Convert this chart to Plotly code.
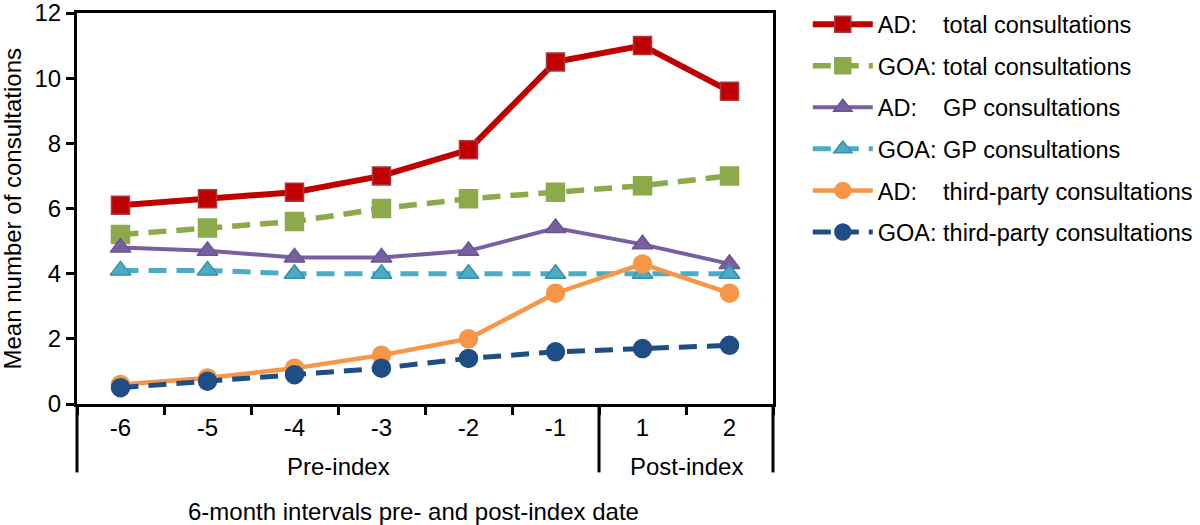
import plotly.graph_objects as go

categories = ["-6", "-5", "-4", "-3", "-2", "-1", "1", "2"]
ad_total = [6.1, 6.3, 6.5, 7.0, 7.8, 10.5, 11.0, 9.6]
goa_total = [5.2, 5.4, 5.6, 6.0, 6.3, 6.5, 6.7, 7.0]
ad_gp = [4.8, 4.7, 4.5, 4.5, 4.7, 5.4, 4.9, 4.3]
goa_gp = [4.1, 4.1, 4.0, 4.0, 4.0, 4.0, 4.0, 4.0]
ad_third = [0.6, 0.8, 1.1, 1.5, 2.0, 3.4, 4.3, 3.4]
goa_third = [0.5, 0.7, 0.9, 1.1, 1.4, 1.6, 1.7, 1.8]
y_ticks = [0, 2, 4, 6, 8, 10, 12]
group_labels = ["Pre-index", "Post-index"]

NB = "\u00a0"
series = [
    ("AD:" + NB * 4 + "total consultations", ad_total, "#C00000", "solid", "square", "#A8383C", 6),
    ("GOA:" + NB + "total consultations", goa_total, "#8DAA4B", "18px,10px", "square", "#8DAA4B", 5.5),
    ("AD:" + NB * 4 + "GP consultations", ad_gp, "#7660A0", "solid", "triangle-up", "#6A5494", 4),
    ("GOA:" + NB + "GP consultations", goa_gp, "#4BACC6", "18px,10px", "triangle-up", "#3A8FAA", 5),
    ("AD:" + NB * 4 + "third-party consultations", ad_third, "#F79646", "solid", "circle", "#F79646", 4.5),
    ("GOA:" + NB + "third-party consultations", goa_third, "#1F4E85", "18px,10px", "circle", "#1F4E85", 5),
]

FONT = "Liberation Sans, Arial, Helvetica, sans-serif"
fig = go.Figure()
for i, (name, vals, color, dash, sym, edge, lw) in enumerate(series):
    fig.add_trace(go.Scatter(
        x=categories, y=vals, name=name, mode="lines+markers",
        legendgroup=str(i),
        line=dict(color=color, width=lw, dash=dash),
        marker=dict(symbol=sym, size=18, color=color, line=dict(color=edge, width=1.5)),
    ))

fig.update_layout(
    width=1200, height=525,
    margin=dict(l=77, r=427, t=13, b=121, autoexpand=False),
    paper_bgcolor="white", plot_bgcolor="white",
    font=dict(family=FONT, size=24, color="black"),
    showlegend=True,
    legend=dict(x=1.05, y=1.027, xanchor="left", yanchor="top",
                font=dict(size=23.5, color="black"), tracegroupgap=8,
                itemwidth=60, bgcolor="rgba(0,0,0,0)"),
    xaxis=dict(type="category", categoryorder="array", categoryarray=categories,
               range=[-0.5, 7.5], showgrid=False, zeroline=False, automargin=False,
               showline=True, linecolor="black", linewidth=3, mirror=True,
               ticks="outside", tickson="boundaries", ticklen=8, tickwidth=3,
               tickcolor="black", tickfont=dict(size=24, color="black")),
    yaxis=dict(range=[0, 12], tickvals=y_ticks, showgrid=False, zeroline=False, automargin=False,
               showline=True, linecolor="black", linewidth=3, mirror=True,
               ticks="outside", ticklen=8, tickwidth=3, tickcolor="black",
               ticklabeloverflow="allow",
               tickfont=dict(size=24, color="black")),
)

# y-axis title
fig.add_annotation(text="Mean number of consultations", xref="paper", yref="paper",
                   x=-0.092, y=0.5, xanchor="center", yanchor="middle", textangle=-90,
                   showarrow=False, font=dict(size=24))

# group separators below the category axis
ext = -0.175
for xd in [0, 6 / 8, 1]:
    fig.add_shape(type="line", xref="x domain", yref="y domain",
                  x0=xd, x1=xd, y0=0, y1=ext, line=dict(color="black", width=3))

fig.add_annotation(text=group_labels[0], xref="x domain", yref="y domain",
                   x=3 / 8, y=-0.161, xanchor="center", yanchor="middle",
                   showarrow=False, font=dict(size=24))
fig.add_annotation(text=group_labels[1], xref="x domain", yref="y domain",
                   x=7 / 8, y=-0.161, xanchor="center", yanchor="middle",
                   showarrow=False, font=dict(size=24))
fig.add_annotation(text="6-month intervals pre- and post-index date", xref="paper", yref="paper",
                   x=0.484, y=-0.276, xanchor="center", yanchor="middle",
                   showarrow=False, font=dict(size=24))

fig.write_html("out.html", config={"displayModeBar": False},
               post_script="document.body.style.margin='0';document.body.style.overflow='hidden';")
